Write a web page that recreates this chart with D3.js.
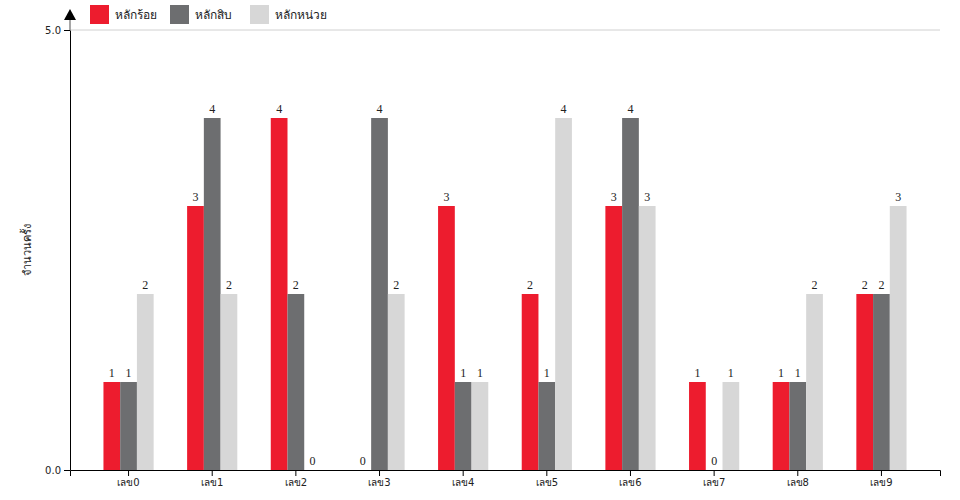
<!DOCTYPE html>
<html><head><meta charset="utf-8">
<script src="https://cdn.jsdelivr.net/npm/d3@7"></script>
<style>body{margin:0;background:#fff}svg{display:block}</style>
</head><body>
<svg id="c" width="960" height="500"></svg>
<script>
const categories = ["เลข0","เลข1","เลข2","เลข3","เลข4","เลข5","เลข6","เลข7","เลข8","เลข9"];
const seriesNames = ["หลักร้อย","หลักสิบ","หลักหน่วย"];
const hundreds = [1,3,4,0,3,2,3,1,1,2];
const tens = [1,4,2,4,1,1,4,0,1,2];
const units = [2,2,0,2,1,4,3,1,2,3];
const colors = ["#ED1C2E","#6D6E70","#D7D7D7"];
const yTicks = [0,5];
const yLabel = "จำนวนครั้ง";

const series = [hundreds, tens, units];
const svg = d3.select("#c");
const L = 70, R = 940, T = 30, B = 470;
const x = d3.scaleBand().domain(categories).range([L, R]).paddingInner(0.4).paddingOuter(0.4);
const xs = d3.scaleBand().domain(seriesNames).range([0, x.bandwidth()]);
const y = d3.scaleLinear().domain([0,5]).range([B, T]);

// gridline
svg.append("line").attr("x1", L).attr("x2", R).attr("y1", y(5)).attr("y2", y(5))
  .attr("stroke", "#d0d0d0").attr("stroke-width", 1);

// bars
const g = svg.append("g");
categories.forEach((c, i) => {
  series.forEach((s, j) => {
    g.append("rect")
      .attr("x", x(c) + xs(seriesNames[j]))
      .attr("y", y(s[i]))
      .attr("width", xs.bandwidth())
      .attr("height", B - y(s[i]))
      .attr("fill", colors[j]);
    g.append("text")
      .attr("x", x(c) + xs(seriesNames[j]) + xs.bandwidth() / 2)
      .attr("y", y(s[i]) - 5)
      .attr("text-anchor", "middle")
      .attr("font-family", "Liberation Serif, serif")
      .attr("font-size", 12)
      .attr("fill", "#222")
      .text(s[i]);
  });
});

// x axis
const xa = svg.append("g").attr("transform", `translate(0,${B})`)
  .call(d3.axisBottom(x).tickSizeOuter(6));
xa.selectAll("text").attr("font-family", "DejaVu Sans, sans-serif").attr("font-size", 10).attr("fill", "#222");
xa.select(".domain").attr("stroke", "#000");

// y axis
const ya = svg.append("g").attr("transform", `translate(${L},0)`)
  .call(d3.axisLeft(y).tickValues(yTicks).tickFormat(d3.format(".1f")).tickSizeOuter(0));
ya.selectAll("text").attr("font-family", "DejaVu Sans, sans-serif").attr("font-size", 10).attr("fill", "#222");

// arrow
svg.append("line").attr("x1", L).attr("x2", L).attr("y1", T).attr("y2", 19)
  .attr("stroke", "#888").attr("stroke-width", 1.5);
svg.append("path").attr("d", `M${L-6},${20}L${L+6},${20}L${L},${9}Z`).attr("fill", "#000");

// y label
svg.append("text").attr("transform", `translate(31,${250}) rotate(-90)`)
  .attr("text-anchor", "middle").attr("font-family", "DejaVu Sans, sans-serif")
  .attr("font-size", 11).attr("fill", "#222").text(yLabel);

// legend
const lg = svg.append("g");
seriesNames.forEach((n, j) => {
  const lx = 90 + j * 80;
  lg.append("rect").attr("x", lx).attr("y", 5).attr("width", 19).attr("height", 19).attr("fill", colors[j]);
  lg.append("text").attr("x", lx + 25).attr("y", 19).attr("font-family", "DejaVu Sans, sans-serif")
    .attr("font-size", 12).attr("fill", "#222").text(n);
});
</script>
</body></html>
